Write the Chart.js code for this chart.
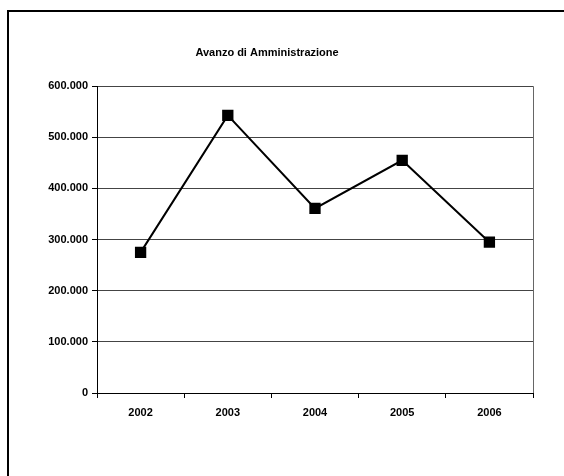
<!DOCTYPE html>
<html>
<head>
<meta charset="utf-8">
<script src="https://cdn.jsdelivr.net/npm/chart.js@4.4.0/dist/chart.umd.min.js"></script>
<style>
  body { margin: 0; background: #fff; }
  #wrap { position: relative; width: 564px; height: 476px; }
  #frame {
    position: absolute; left: 7px; top: 10px; right: 0; bottom: 0;
    border-left: 2px solid #000; border-top: 2px solid #000;
    pointer-events: none;
  }
</style>
</head>
<body>
<div id="wrap">
  <canvas id="canvas" width="564" height="476"></canvas>
  <div id="frame"></div>
</div>
<script>
// data
const years = ['2002', '2003', '2004', '2005', '2006'];
const avanzo = [275000, 543000, 361000, 455000, 295000];
const yTicks = [0, 100000, 200000, 300000, 400000, 500000, 600000];

const chartTitle = 'Avanzo di Amministrazione';

// 600000 -> "600.000"
function fmt(v) {
    return String(v).replace(/\B(?=(\d{3})+(?!\d))/g, '.');
}

const ctx = document.getElementById('canvas').getContext('2d');

new Chart(ctx, {
    type: 'line',
    data: {
        labels: years,
        datasets: [{
            data: avanzo,
            borderColor: '#000',
            borderWidth: 2,
            backgroundColor: '#000',
            pointStyle: 'rect',
            pointRadius: 8,
            pointBorderWidth: 0,
            tension: 0
        }]
    },
    options: {
        responsive: false,
        animation: false,
        layout: {
            padding: { left: 1, right: 31, top: 38, bottom: 40 }
        },
        plugins: {
            legend: { display: false },
            tooltip: { enabled: false },
            title: {
                display: true,
                text: chartTitle,
                color: '#000',
                font: { family: 'Liberation Sans', size: 11, weight: 'bold' },
                padding: { top: 8, bottom: 27 }
            }
        },
        scales: {
            x: {
                offset: true,
                grid: {
                    offset: true,
                    drawOnChartArea: true,
                    // only the closing line on the right edge of the plot
                    color: c => c.type === 'tick' ? 'rgba(0,0,0,0)' : '#666',
                    tickColor: '#000',
                    tickLength: 5
                },
                border: { color: '#000', width: 1 },
                ticks: {
                    color: '#000',
                    padding: 8,
                    font: { family: 'Liberation Sans', size: 11, weight: 'bold' }
                },
                afterFit: s => { s.height = 43; }
            },
            y: {
                min: 0,
                max: 600000,
                afterBuildTicks: s => { s.ticks = yTicks.map(v => ({ value: v })); },
                grid: {
                    color: '#444',
                    tickColor: '#000',
                    tickLength: 5
                },
                border: { color: '#000', width: 1 },
                ticks: {
                    color: '#000',
                    padding: 4,
                    font: { family: 'Liberation Sans', size: 11, weight: 'bold' },
                    callback: v => fmt(v)
                },
                afterFit: s => { s.width = 96; }
            }
        }
    }
});
</script>
</body>
</html>
